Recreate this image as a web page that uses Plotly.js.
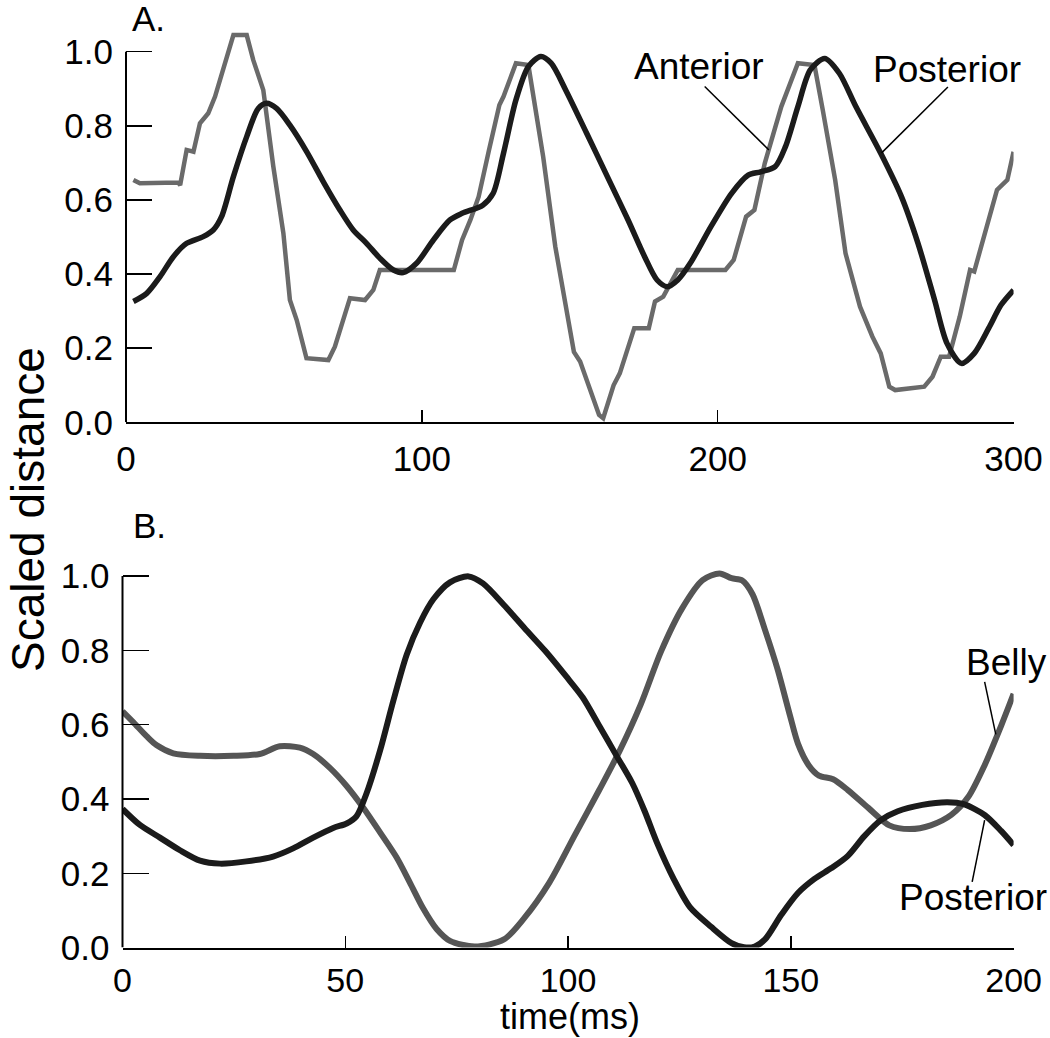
<!DOCTYPE html>
<html>
<head>
<meta charset="utf-8">
<script src="https://cdn.plot.ly/plotly-3.0.1.min.js"></script>
<style>html,body{margin:0;padding:0;background:#fff;}#chart{width:1050px;height:1038px;}</style>
</head>
<body>
<div id="chart"></div>
<script>
// ---- Panel A data (time in ms, scaled distance) ----
const topAntX = [2.5, 4.7, 17.7, 18.3, 20.5, 22.8, 25, 27.8, 30.1, 36.3, 40.8, 43, 46.4, 49.8, 53.2, 55.4, 57.7, 61, 68.4, 70.6, 75.7, 80.8, 83.6, 85.8, 110.8, 113.6, 116.4, 119.2, 122.7, 126.2, 127.6, 131.8, 136, 141, 145.1, 148, 151.4, 153.5, 159.9, 161.3, 164.8, 166.9, 171.8, 176.7, 178.8, 181.6, 186.5, 202.6, 205.4, 209.6, 212.4, 215.9, 221.5, 227.1, 232.7, 235.5, 239.7, 243.2, 248.1, 252.3, 255.1, 258, 260, 269.8, 272.6, 275.4, 278.2, 281.8, 285.3, 286.7, 290.2, 294.4, 297.9, 300];
const topAntY = [0.654, 0.645, 0.647, 0.64, 0.735, 0.73, 0.807, 0.834, 0.879, 1.045, 1.045, 0.978, 0.897, 0.69, 0.51, 0.33, 0.276, 0.173, 0.168, 0.204, 0.335, 0.33, 0.357, 0.411, 0.411, 0.492, 0.546, 0.609, 0.735, 0.856, 0.879, 0.969, 0.964, 0.717, 0.474, 0.348, 0.19, 0.164, 0.02, 0.011, 0.10, 0.132, 0.254, 0.254, 0.326, 0.339, 0.411, 0.411, 0.438, 0.555, 0.573, 0.699, 0.852, 0.969, 0.964, 0.843, 0.654, 0.456, 0.312, 0.231, 0.186, 0.096, 0.087, 0.096, 0.123, 0.177, 0.177, 0.285, 0.411, 0.407, 0.51, 0.627, 0.654, 0.73];
const topPostX = [2.5, 7, 11.5, 16, 20.5, 26.1, 29.5, 32.3, 36.3, 40.8, 44.7, 47.5, 50.9, 55.4, 61.1, 66.7, 72.3, 76.8, 81.3, 85.8, 90.4, 93.7, 98.2, 103.9, 109.5, 113.6, 120.6, 124.1, 127.6, 131.8, 136, 140.2, 143.7, 148.6, 155.7, 162.7, 169.7, 175.3, 179.5, 183, 186.5, 190.7, 197.7, 204.7, 210.3, 214.5, 219.4, 222.9, 227.1, 231.3, 236.2, 241.1, 246.7, 255.1, 262.1, 267.7, 273.3, 277.5, 282.4, 286.7, 291.6, 295.8, 300];
const topPostY = [0.326, 0.348, 0.393, 0.447, 0.483, 0.501, 0.519, 0.555, 0.663, 0.771, 0.847, 0.861, 0.847, 0.802, 0.73, 0.649, 0.573, 0.519, 0.483, 0.443, 0.411, 0.404, 0.429, 0.492, 0.546, 0.564, 0.586, 0.618, 0.726, 0.87, 0.96, 0.987, 0.969, 0.897, 0.78, 0.663, 0.546, 0.447, 0.384, 0.366, 0.384, 0.429, 0.528, 0.618, 0.667, 0.676, 0.69, 0.744, 0.852, 0.951, 0.982, 0.942, 0.852, 0.726, 0.609, 0.483, 0.33, 0.213, 0.159, 0.186, 0.254, 0.317, 0.357];

// ---- Panel B data ----
const botBellyX = [0, 2.4, 5.4, 7.6, 11.4, 17.4, 24.9, 30.8, 35.3, 39.8, 42.8, 46.6, 50.3, 54, 57.8, 61.5, 64.5, 67.5, 70.5, 73.5, 79.1, 85.6, 90.2, 95.8, 101.4, 107, 111.6, 116.3, 120.9, 125.6, 130.2, 134, 136.7, 139.1, 141.4, 144.2, 147, 149.8, 151.6, 154, 156.3, 159.5, 162.8, 167.4, 172.1, 176.7, 181.4, 186, 189.8, 193.5, 197.2, 200];
const botBellyY = [0.636, 0.607, 0.569, 0.545, 0.523, 0.516, 0.516, 0.521, 0.542, 0.538, 0.521, 0.483, 0.435, 0.377, 0.31, 0.243, 0.175, 0.105, 0.05, 0.018, 0.003, 0.022, 0.08, 0.175, 0.3, 0.424, 0.53, 0.654, 0.798, 0.913, 0.989, 1.007, 0.994, 0.988, 0.951, 0.855, 0.75, 0.625, 0.549, 0.491, 0.463, 0.453, 0.424, 0.376, 0.329, 0.319, 0.329, 0.357, 0.405, 0.491, 0.597, 0.683];
const botPostX = [0, 3.9, 8.4, 12.9, 17.4, 21.9, 27.8, 33.8, 38.3, 42.8, 47.3, 50.3, 52.5, 54.8, 57.8, 60.8, 63.8, 66.8, 69.8, 73.5, 77.7, 80.9, 85.6, 90.2, 94.9, 99.5, 103.3, 107, 110.7, 114.4, 117.2, 120, 123.7, 127.4, 132.1, 136.7, 139.5, 141.9, 144.2, 147.9, 151.6, 155.3, 159.1, 162.8, 166.5, 170.2, 174, 179.5, 185.1, 188.8, 193.5, 197.2, 200];
const botPostY = [0.373, 0.33, 0.296, 0.262, 0.234, 0.226, 0.232, 0.245, 0.267, 0.296, 0.322, 0.334, 0.353, 0.416, 0.53, 0.665, 0.789, 0.875, 0.938, 0.983, 0.999, 0.98, 0.922, 0.86, 0.798, 0.731, 0.673, 0.597, 0.52, 0.443, 0.367, 0.281, 0.185, 0.108, 0.056, 0.012, 0.001, 0.003, 0.022, 0.089, 0.147, 0.185, 0.214, 0.247, 0.3, 0.343, 0.367, 0.384, 0.391, 0.386, 0.357, 0.314, 0.276];

// ---- ticks ----
const yTicks = [0, 0.2, 0.4, 0.6, 0.8, 1.0];
const topXTicks = [0, 100, 200, 300];
const botXTicks = [0, 50, 100, 150, 200];

const FONT = 'Liberation Sans, Arial, Helvetica, sans-serif';
const GRAY_A = '#6a6a6a', BLACK = '#1b1b1b', GRAY_B = '#555555';

const traces = [
  {x: topAntX, y: topAntY, xaxis: 'x', yaxis: 'y', mode: 'lines', name: 'Anterior',
   line: {color: GRAY_A, width: 4.5, shape: 'linear'}},
  {x: topPostX, y: topPostY, xaxis: 'x', yaxis: 'y', mode: 'lines', name: 'Posterior',
   line: {color: BLACK, width: 5.5, shape: 'spline', smoothing: 0.8}},
  {x: botBellyX, y: botBellyY, xaxis: 'x2', yaxis: 'y2', mode: 'lines', name: 'Belly',
   line: {color: GRAY_B, width: 6, shape: 'spline', smoothing: 0.8}},
  {x: botPostX, y: botPostY, xaxis: 'x2', yaxis: 'y2', mode: 'lines', name: 'Posterior',
   line: {color: BLACK, width: 6, shape: 'spline', smoothing: 0.8}}
];

function xa(domain, range, ticks, anchor, standoff, fsize) {
  return {domain: domain, range: range, tickvals: ticks, ticks: 'inside', ticklen: 12, tickwidth: 1.5,
    tickcolor: '#000', showline: true, linewidth: 2, linecolor: '#000', showgrid: false, zeroline: false,
    tickfont: {family: FONT, size: fsize, color: '#000'}, ticklabelstandoff: standoff, anchor: anchor, fixedrange: true};
}
function ya(domain, anchor) {
  return {domain: domain, range: [0, 1.07], tickvals: yTicks, tickformat: '.1f', ticks: 'inside', ticklen: 26,
    tickwidth: 1.5, tickcolor: '#000', showline: false, showgrid: false, zeroline: false,
    tickfont: {family: FONT, size: 35, color: '#000'}, ticklabelstandoff: 12, anchor: anchor, fixedrange: true};
}

const ann = (x, y, text, xref, yref, size, extra) => Object.assign({x: x, y: y, xref: xref, yref: yref, text: text,
  showarrow: false, font: {family: FONT, size: size, color: '#000'}, xanchor: 'center', yanchor: 'middle'}, extra || {});

const layout = {
  width: 1050, height: 1038,
  margin: {l: 0, r: 0, t: 0, b: 0},
  paper_bgcolor: '#fff', plot_bgcolor: '#fff',
  showlegend: false,
  xaxis: xa([0.12, 0.9653], [0, 300], topXTicks, 'y', 5, 35),
  yaxis: ya([0.59316, 0.97514], 'x'),
  xaxis2: xa([0.11667, 0.96533], [0, 200], botXTicks, 'y2', 2, 34),
  yaxis2: ya([0.08709, 0.47013], 'x2'),
  shapes: [
    {type: 'line', xref: 'x domain', yref: 'y', x0: 0, x1: 0, y0: 0, y1: 1, line: {color: '#000', width: 2}},
    {type: 'line', xref: 'x2 domain', yref: 'y2', x0: 0, x1: 0, y0: 0, y1: 1, line: {color: '#000', width: 2}},
    // leader lines
    {type: 'line', xref: 'x', yref: 'y', x0: 195.6, y0: 0.906, x1: 217.3, y1: 0.735, line: {color: '#000', width: 1.5}},
    {type: 'line', xref: 'x', yref: 'y', x0: 277.8, y0: 0.905, x1: 255.4, y1: 0.727, line: {color: '#000', width: 1.5}},
    {type: 'line', xref: 'x2', yref: 'y2', x0: 193.5, y0: 0.715, x1: 196, y1: 0.574, line: {color: '#000', width: 1.5}},
    {type: 'line', xref: 'x2', yref: 'y2', x0: 190.7, y0: 0.177, x1: 193.5, y1: 0.343, line: {color: '#000', width: 1.5}}
  ],
  annotations: [
    ann(193.7, 0.961, 'Anterior', 'x', 'y', 37),
    ann(277.5, 0.951, 'Posterior', 'x', 'y', 37),
    ann(198.3, 0.766, 'Belly', 'x2', 'y2', 37),
    ann(191, 0.136, 'Posterior', 'x2', 'y2', 37),
    ann(0.141, 0.9822, 'A.', 'paper', 'paper', 35),
    ann(0.142, 0.4942, 'B.', 'paper', 'paper', 35),
    ann(0, 0.5087, 'Scaled distance', 'paper', 'paper', 46, {textangle: -90, xanchor: 'left'}),
    ann(0.5429, 0, 'time(ms)', 'paper', 'paper', 36, {yanchor: 'bottom', borderpad: 0})
  ]
};

Plotly.newPlot('chart', traces, layout, {staticPlot: true, displayModeBar: false});
</script>
</body>
</html>
